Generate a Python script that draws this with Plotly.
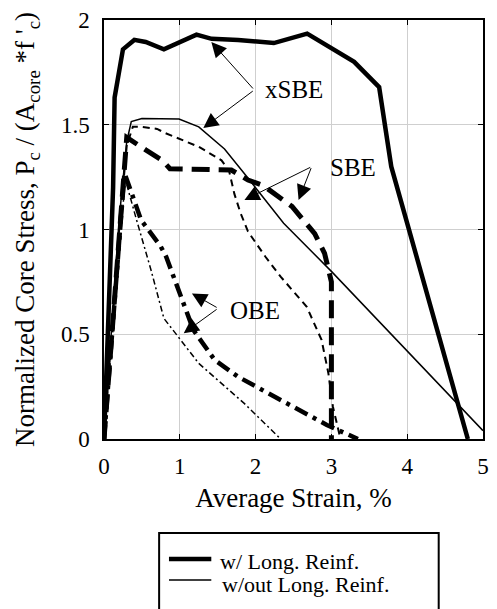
import plotly.graph_objects as go

# ---- data (strain %, normalized core stress) ----
xsbe_w_x = [0, 0.05, 0.12, 0.14, 0.25, 0.40, 0.55, 0.79, 1.22, 1.42, 1.77, 2.24, 2.68, 3.30, 3.63, 3.79, 4.80]
xsbe_w_y = [0, 0.45, 1.20, 1.63, 1.86, 1.905, 1.895, 1.86, 1.93, 1.91, 1.905, 1.89, 1.935, 1.80, 1.68, 1.30, 0]

xsbe_wo_x = [0, 0.1, 0.2, 0.3, 0.36, 0.5, 0.99, 1.25, 1.59, 1.92, 2.37, 3.0, 4.0, 5.0]
xsbe_wo_y = [0, 0.55, 1.05, 1.42, 1.515, 1.53, 1.527, 1.49, 1.384, 1.236, 1.03, 0.80, 0.42, 0.04]

sbe_w_x = [0, 0.1, 0.2, 0.3, 0.55, 0.77, 0.87, 1.68, 1.9, 2.1, 2.48, 2.78, 2.91, 2.97, 3.0, 3.0]
sbe_w_y = [0, 0.5, 1.0, 1.44, 1.38, 1.33, 1.29, 1.284, 1.236, 1.21, 1.11, 0.98, 0.886, 0.807, 0.75, 0]

sbe_wo_x = [0, 0.1, 0.2, 0.3, 0.38, 0.5, 0.7, 0.81, 1.25, 1.55, 1.65, 1.72, 1.8, 1.9, 2.13, 2.33, 2.675, 2.87, 2.96, 3.02, 3.12]
sbe_wo_y = [0, 0.5, 1.0, 1.4, 1.49, 1.49, 1.48, 1.46, 1.395, 1.33, 1.28, 1.17, 1.08, 0.99, 0.87, 0.775, 0.631, 0.473, 0.314, 0.154, 0]

obe_w_x = [0, 0.1, 0.2, 0.27, 0.49, 0.75, 0.82, 1.01, 1.18, 1.46, 1.77, 2.33, 2.94, 3.35]
obe_w_y = [0, 0.45, 0.95, 1.27, 1.045, 0.918, 0.87, 0.68, 0.52, 0.377, 0.297, 0.186, 0.067, 0]

obe_wo_x = [0, 0.1, 0.2, 0.28, 0.43, 0.62, 0.79, 0.965, 1.25, 1.85, 2.33]
obe_wo_y = [0, 0.45, 0.92, 1.24, 1.045, 0.807, 0.576, 0.496, 0.361, 0.17, 0]

x_ticks = [0, 1, 2, 3, 4, 5]
y_ticks = [0, 0.5, 1, 1.5, 2]
legend_labels = ["w/ Long. Reinf.", "w/out Long. Reinf."]

FONT = "Liberation Serif"

fig = go.Figure()

def add(x, y, width, dash, name):
    fig.add_trace(go.Scatter(x=x, y=y, mode="lines", name=name, showlegend=False,
                             line=dict(color="black", width=width, dash=dash)))

add(xsbe_wo_x, xsbe_wo_y, 1.5, "solid", "xSBE w/out")
add(sbe_wo_x, sbe_wo_y, 2, "7px,5px", "SBE w/out")
add(obe_wo_x, obe_wo_y, 1.5, "6px,3px,2px,3px", "OBE w/out")
add(xsbe_w_x, xsbe_w_y, 4.5, "solid", "xSBE w/")
add(sbe_w_x, sbe_w_y, 5, "18px,9px", "SBE w/")
add(obe_w_x, obe_w_y, 4.5, "14px,6px,4px,6px", "OBE w/")

# ---- annotations with arrows ----
arrows = [
    # (head_x, head_y, tail_x, tail_y)
    (1.416, 1.895, 1.983, 1.666),
    (1.31, 1.484, 1.983, 1.666),
    (1.853, 1.141, 2.74, 1.30),
    (2.567, 1.141, 2.74, 1.30),
    (1.16, 0.695, 1.506, 0.624),
    (1.052, 0.505, 1.506, 0.624),
]
for hx, hy, tx, ty in arrows:
    fig.add_annotation(x=hx, y=hy, ax=tx, ay=ty, xref="x", yref="y", axref="x", ayref="y",
                       text="", showarrow=True, arrowhead=2, arrowsize=3, arrowwidth=1,
                       arrowcolor="black", standoff=0, startstandoff=0)

labels = [("xSBE", 2.10, 1.666), ("SBE", 2.957, 1.295), ("OBE", 1.636, 0.612)]
for t, lx, ly in labels:
    fig.add_annotation(x=lx, y=ly, xref="x", yref="y", text=t, showarrow=False,
                       xanchor="left", yanchor="middle",
                       font=dict(family=FONT, size=25, color="black"))

# ---- manual legend (box extends past bottom edge as in reference) ----
W, H = 497, 609
L, R, T, B = 104, 8, 20, 170
pw, ph = W - L - R, H - T - B

def px(xp):
    return (xp - L) / pw

def py(yp):
    return (H - B - yp) / ph

fig.add_shape(type="rect", xref="paper", yref="paper",
              x0=px(160), x1=px(444), y0=py(640), y1=py(533),
              line=dict(color="black", width=2), fillcolor="white", layer="above")
leg_rows = [(559, 4.5, 221, 561), (580, 1.5, 223, 584)]
for (yy, lw, tx, ty), lab in zip(leg_rows, legend_labels):
    fig.add_shape(type="line", xref="paper", yref="paper",
                  x0=px(170), x1=px(213), y0=py(yy), y1=py(yy),
                  line=dict(color="black", width=lw), layer="above")
    fig.add_annotation(x=px(tx), y=py(ty), xref="paper", yref="paper", text=lab,
                       showarrow=False, xanchor="left", yanchor="middle", borderpad=0,
                       font=dict(family=FONT, size=22, color="black"))

axis_common = dict(showline=True, linecolor="black", linewidth=1.5, mirror="ticks",
                   ticks="inside", ticklen=5, tickwidth=1, tickcolor="black",
                   showgrid=True, gridcolor="#cfcfcf", gridwidth=1, zeroline=False,
                   tickfont=dict(family=FONT, size=23, color="black"))

fig.update_layout(
    width=W, height=H,
    margin=dict(l=L, r=R, t=T, b=B),
    paper_bgcolor="white", plot_bgcolor="white",
    xaxis=dict(range=[0, 5], tickvals=x_ticks, ticktext=[str(v) for v in x_ticks],
               ticklabelstandoff=6,
               title=dict(text="Average Strain, %", standoff=10,
                          font=dict(family=FONT, size=27, color="black")),
               **axis_common),
    yaxis=dict(range=[0, 2], tickvals=y_ticks, ticktext=["0", "0.5", "1", "1.5", "2"],
               ticklabelstandoff=8,
               title=dict(text="Normalized Core Stress, P<sub>c</sub> / (A<sub>core</sub> *f '<sub>c</sub>)",
                          standoff=18,
                          font=dict(family=FONT, size=27, color="black")),
               **axis_common),
    showlegend=False,
)

fig.write_html("out.html")
